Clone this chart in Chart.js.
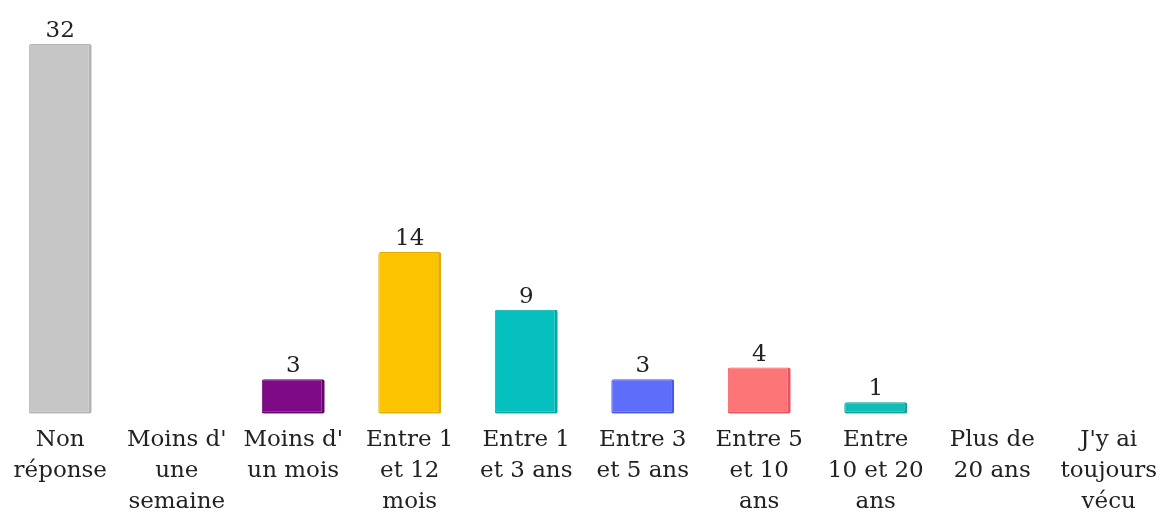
<!DOCTYPE html>
<html>
<head>
<meta charset="utf-8">
<script src="https://cdn.jsdelivr.net/npm/chart.js@4"></script>
<style>
html,body{margin:0;padding:0;background:#fff;overflow:hidden;}
#wrap{width:1168px;height:517px;position:relative;}
</style>
</head>
<body>
<div id="wrap"><canvas id="c"></canvas></div>
<script>
const categories = [
  ["Non", "réponse"],
  ["Moins d'", "une", "semaine"],
  ["Moins d'", "un mois"],
  ["Entre 1", "et 12", "mois"],
  ["Entre 1", "et 3 ans"],
  ["Entre 3", "et 5 ans"],
  ["Entre 5", "et 10", "ans"],
  ["Entre", "10 et 20", "ans"],
  ["Plus de", "20 ans"],
  ["J'y ai", "toujours", "vécu"]
];
const values = [32, null, 3, 14, 9, 3, 4, 1, null, null];
const barColors = ["#c6c6c6", "#c6c6c6", "#7e0a86", "#fcc400", "#06c0bf", "#5f6dfb", "#fd7677", "#12bcb6", "#cccccc", "#cccccc"];
const edgeColors = ["#b3b3b3", "#b3b3b3", "#6a0070", "#e6ab00", "#00a9a8", "#4a56ea", "#f0505c", "#0aa49e", "#b3b3b3", "#b3b3b3"];

const valueLabels = {
  id: 'valueLabels',
  afterDatasetsDraw(chart) {
    const ctx = chart.ctx;
    const meta = chart.getDatasetMeta(0);
    ctx.save();
    ctx.font = '23px "DejaVu Serif", serif';
    ctx.fillStyle = '#222';
    ctx.textAlign = 'center';
    ctx.textBaseline = 'alphabetic';
    meta.data.forEach((bar, i) => {
      const v = chart.data.datasets[0].data[i];
      if (v === null || v === undefined) return;
      ctx.fillText(String(v), bar.x, bar.y - 7);
    });
    ctx.restore();
  }
};

new Chart(document.getElementById('c'), {
  type: 'bar',
  data: {
    labels: categories,
    datasets: [{
      data: values,
      backgroundColor: barColors,
      borderColor: edgeColors,
      borderWidth: {left: 1, top: 1, right: 3, bottom: 2},
      borderSkipped: false,
      borderRadius: 2,
      barPercentage: 0.54,
      categoryPercentage: 1.0
    }]
  },
  options: {
    responsive: true,
    maintainAspectRatio: false,
    animation: false,
    layout: { padding: { top: 44, left: 2, right: 0, bottom: -12 } },
    plugins: { legend: { display: false }, tooltip: { enabled: false } },
    scales: {
      x: {
        grid: { display: false, drawTicks: false },
        border: { display: false },
        ticks: {
          color: '#222',
          font: { family: '"DejaVu Serif", serif', size: 23, lineHeight: 1.35 },
          padding: 11,
          maxRotation: 0,
          autoSkip: false
        }
      },
      y: {
        display: false,
        min: 0,
        max: 32
      }
    }
  },
  plugins: [valueLabels]
});
</script>
</body>
</html>
